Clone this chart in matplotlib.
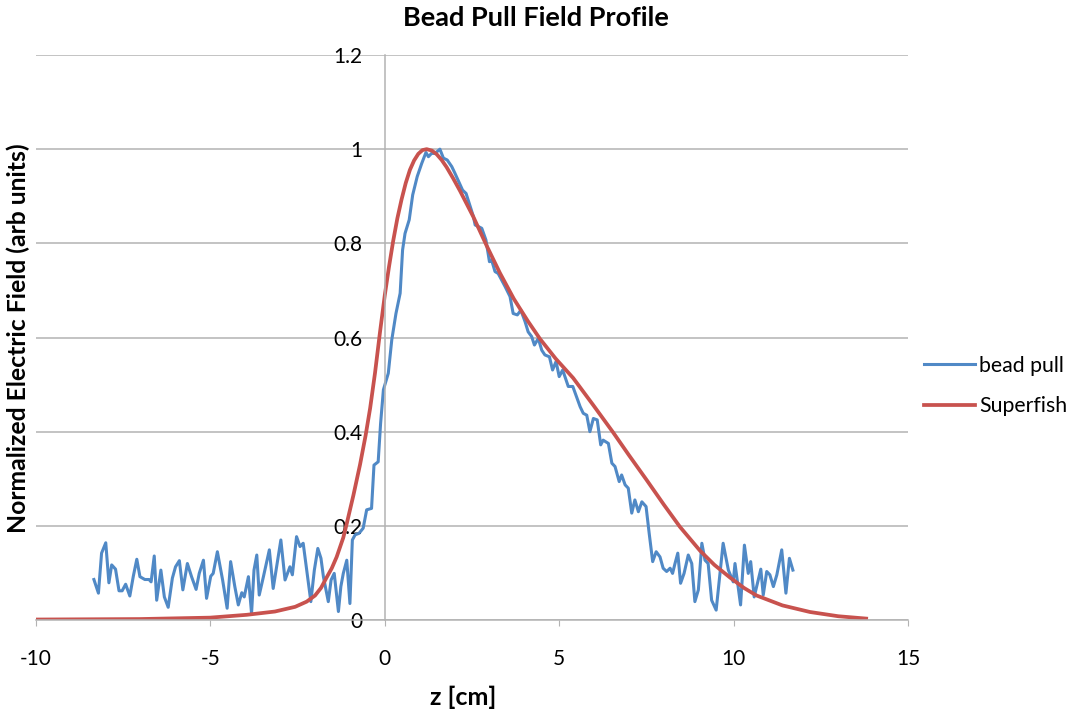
import matplotlib
matplotlib.use('Agg')
import matplotlib.pyplot as plt

bead_z = [-8.34, -8.21, -8.12, -8.00, -7.91, -7.83, -7.72, -7.62, -7.53, -7.43,
          -7.31, -7.21, -7.11, -7.02, -6.88, -6.76, -6.70, -6.61, -6.54, -6.42,
          -6.32, -6.21, -6.09, -6.00, -5.89, -5.79, -5.66, -5.54, -5.41, -5.32,
          -5.20, -5.11, -4.99, -4.92, -4.80, -4.65, -4.52, -4.42, -4.30, -4.20,
          -4.10, -4.03, -3.91, -3.82, -3.75, -3.67, -3.60, -3.48, -3.31, -3.20,
          -2.98, -2.86, -2.72, -2.65, -2.53, -2.43, -2.34, -2.24, -2.12, -2.02,
          -1.92, -1.83, -1.76, -1.62, -1.54, -1.45, -1.33, -1.26, -1.19, -1.09,
          -1.00, -0.93, -0.85, -0.74, -0.62, -0.52, -0.38, -0.31, -0.19, -0.12,
          -0.04, 0.10, 0.20, 0.32, 0.44, 0.51, 0.58, 0.70, 0.80, 0.93,
          1.06, 1.18, 1.25, 1.34, 1.44, 1.58, 1.68, 1.79, 1.92, 2.01,
          2.23, 2.33, 2.54, 2.59, 2.78, 2.90, 3.00, 3.06, 3.16, 3.25,
          3.45, 3.59, 3.68, 3.80, 3.90, 4.02, 4.11, 4.21, 4.29, 4.40,
          4.50, 4.59, 4.72, 4.81, 4.91, 5.00, 5.10, 5.26, 5.39, 5.60,
          5.69, 5.79, 5.88, 5.98, 6.09, 6.19, 6.26, 6.41, 6.51, 6.60,
          6.72, 6.79, 6.89, 6.98, 7.08, 7.17, 7.27, 7.37, 7.49, 7.58,
          7.68, 7.78, 7.89, 7.98, 8.08, 8.18, 8.25, 8.32, 8.40, 8.48,
          8.58, 8.70, 8.80, 8.89, 8.99, 9.09, 9.18, 9.27, 9.37, 9.50,
          9.70, 9.85, 9.99, 10.04, 10.20, 10.31, 10.42, 10.49, 10.59, 10.66,
          10.78, 10.85, 10.95, 11.04, 11.14, 11.24, 11.38, 11.50, 11.60, 11.70]
bead_e = [0.086, 0.057, 0.142, 0.164, 0.079, 0.117, 0.108, 0.062, 0.062, 0.076,
          0.051, 0.093, 0.129, 0.092, 0.086, 0.086, 0.081, 0.136, 0.042, 0.106,
          0.049, 0.027, 0.089, 0.113, 0.126, 0.064, 0.120, 0.092, 0.065, 0.099,
          0.127, 0.046, 0.093, 0.099, 0.145, 0.085, 0.025, 0.124, 0.071, 0.032,
          0.058, 0.049, 0.092, 0.014, 0.106, 0.138, 0.053, 0.092, 0.149, 0.067,
          0.170, 0.085, 0.113, 0.096, 0.177, 0.156, 0.163, 0.106, 0.039, 0.106,
          0.152, 0.131, 0.092, 0.039, 0.085, 0.099, 0.018, 0.071, 0.099, 0.127,
          0.035, 0.170, 0.181, 0.184, 0.195, 0.234, 0.237, 0.329, 0.336, 0.418,
          0.489, 0.524, 0.595, 0.651, 0.694, 0.786, 0.821, 0.850, 0.903, 0.942,
          0.970, 0.993, 0.984, 0.991, 0.991, 1.000, 0.981, 0.977, 0.963, 0.949,
          0.913, 0.906, 0.857, 0.839, 0.832, 0.807, 0.761, 0.765, 0.740, 0.736,
          0.708, 0.687, 0.651, 0.648, 0.658, 0.634, 0.612, 0.602, 0.584, 0.598,
          0.573, 0.563, 0.559, 0.531, 0.549, 0.517, 0.531, 0.496, 0.496, 0.453,
          0.439, 0.435, 0.400, 0.428, 0.425, 0.372, 0.382, 0.375, 0.333, 0.326,
          0.294, 0.308, 0.287, 0.280, 0.227, 0.255, 0.230, 0.251, 0.241, 0.184,
          0.124, 0.145, 0.134, 0.110, 0.103, 0.110, 0.099, 0.120, 0.142, 0.078,
          0.099, 0.138, 0.120, 0.039, 0.064, 0.163, 0.127, 0.120, 0.042, 0.021,
          0.163, 0.106, 0.081, 0.120, 0.032, 0.159, 0.099, 0.124, 0.049, 0.071,
          0.108, 0.053, 0.103, 0.096, 0.071, 0.096, 0.149, 0.057, 0.131, 0.106]

# Superfish simulation
sf_z = [-10.0, -7.02, -5.01, -3.96, -3.15, -2.57, -2.24, -2.00, -1.83, -1.67,
        -1.52, -1.38, -1.19, -1.09, -0.90, -0.71, -0.55, -0.42, -0.28, -0.14,
        0.0, 0.12, 0.24, 0.36, 0.48, 0.60, 0.72, 0.84, 0.96, 1.08,
        1.20, 1.35, 1.49, 1.63, 1.77, 1.96, 2.16, 2.54, 2.92, 3.30,
        3.70, 4.10, 4.45, 4.90, 5.40, 5.98, 6.55, 7.00, 7.51, 8.00,
        8.46, 9.04, 9.45, 9.90, 10.30, 10.66, 11.40, 12.19, 13.00, 13.80]
sf_e = [0.001, 0.002, 0.005, 0.011, 0.018, 0.028, 0.039, 0.052, 0.068, 0.090,
        0.110, 0.134, 0.175, 0.205, 0.265, 0.330, 0.392, 0.450, 0.525, 0.610,
        0.690, 0.750, 0.805, 0.853, 0.893, 0.928, 0.956, 0.976, 0.990, 0.998,
        1.000, 0.997, 0.989, 0.977, 0.962, 0.938, 0.911, 0.856, 0.795, 0.737,
        0.682, 0.635, 0.597, 0.555, 0.514, 0.456, 0.398, 0.350, 0.297, 0.245,
        0.198, 0.147, 0.117, 0.090, 0.068, 0.052, 0.031, 0.017, 0.008, 0.003]

x_ticks = [-10, -5, 0, 5, 10, 15]
y_ticks = [0, 0.2, 0.4, 0.6, 0.8, 1.0, 1.2]
y_tick_labels = ['0', '0.2', '0.4', '0.6', '0.8', '1', '1.2']

plt.rcParams['font.family'] = ['Lato', 'DejaVu Sans']
plt.rcParams['axes.unicode_minus'] = False

fig = plt.figure(figsize=(10.71, 7.17), dpi=100)
ax = fig.add_axes([36 / 1071, 97 / 717, 872 / 1071, 565 / 717])

grid_col = '#b3b3b3'
ax.set_xlim(-10, 15)
ax.set_ylim(0, 1.2)
ax.set_yticks(y_ticks)
ax.set_yticklabels(y_tick_labels)
ax.set_xticks(x_ticks)
ax.yaxis.grid(True, color=grid_col, linewidth=1.1)
ax.set_axisbelow(True)

for side in ['top', 'right']:
    ax.spines[side].set_visible(False)
ax.spines['left'].set_position(('data', 0))
ax.spines['left'].set_color(grid_col)
ax.spines['bottom'].set_color(grid_col)
ax.spines['left'].set_linewidth(1.1)
ax.spines['bottom'].set_linewidth(1.1)
ax.tick_params(axis='y', length=0, pad=16, labelsize=15)
ax.tick_params(axis='x', direction='out', length=4, color=grid_col, pad=17, labelsize=15)

ax.plot(bead_z, bead_e, color='#5089c6', linewidth=2.2, label='bead pull',
        solid_joinstyle='round')
ax.plot(sf_z, sf_e, color='#c8524e', linewidth=2.7, label='Superfish',
        solid_joinstyle='round')

fig.legend(loc='center left', bbox_to_anchor=(924 / 1071, 1 - 386 / 717),
           frameon=False, handlelength=2.4, handletextpad=0.2,
           labelspacing=0.95, fontsize=15.3, borderpad=0, borderaxespad=0)

fig.text(0.5, 1 - 18 / 717, 'Bead Pull Field Profile', ha='center', va='center',
         fontsize=19.5, fontweight='bold')
fig.text(463 / 1071, 1 - 697 / 717, 'z [cm]', ha='center', va='center',
         fontsize=18, fontweight='bold')
fig.text(18 / 1071, 1 - 338 / 717, 'Normalized Electric Field (arb units)',
         ha='center', va='center', rotation=90, fontsize=17.8, fontweight='bold')

plt.savefig('out.png', dpi=100)
